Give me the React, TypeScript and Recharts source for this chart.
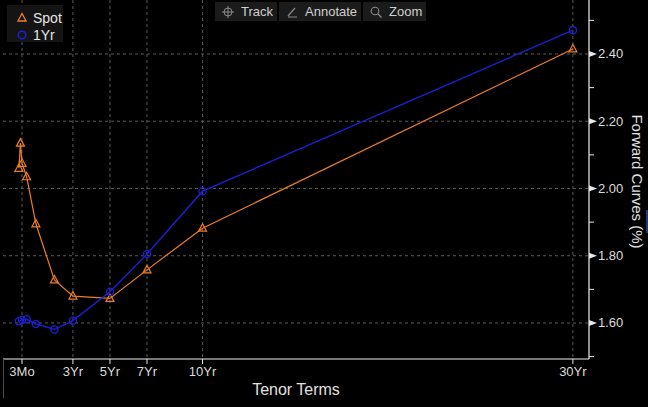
import React from 'react';
import { LineChart, Line, XAxis, YAxis, CartesianGrid } from 'recharts';

const tenorTicks = [0.25, 3, 5, 7, 10, 30];
const tenorLabels = ['3Mo', '3Yr', '5Yr', '7Yr', '10Yr', '30Yr'];

const spotTenors = [0.083, 0.167, 0.25, 0.5, 1, 2, 3, 5, 7, 10, 30];
const spotValues = [2.06, 2.135, 2.075, 2.035, 1.895, 1.728, 1.68, 1.673, 1.758, 1.882, 2.415];

const oneYrTenors = [0.083, 0.25, 0.5, 1, 2, 3, 5, 7, 10, 30];
const oneYrValues = [1.605, 1.609, 1.611, 1.597, 1.581, 1.607, 1.693, 1.805, 1.992, 2.471];

const yMajorTicks = [1.6, 1.8, 2.0, 2.2, 2.4];
const yAllTicks = [1.5, 1.6, 1.7, 1.8, 1.9, 2.0, 2.1, 2.2, 2.3, 2.4, 2.5];

const seriesNames = ['Spot', '1Yr'];
const toolbarItems = ['Track', 'Annotate', 'Zoom'];

const ORANGE = '#ee7d26';
const BLUE = '#1e1ed2';
const FONT = '"Liberation Sans", Arial, sans-serif';

const spotData = spotTenors.map((t, i) => ({ t, v: spotValues[i] }));
const oneYrData = oneYrTenors.map((t, i) => ({ t, v: oneYrValues[i] }));

const isMajor = (v: number) => yMajorTicks.some((m) => Math.abs(m - v) < 1e-6);

const YTick = (props: any) => {
  const { x, y, payload } = props;
  const v = payload.value as number;
  if (isMajor(v)) {
    return (
      <g>
        <polygon points={`${x},${y - 3} ${x},${y + 3} ${x + 8},${y}`} fill="#e8e8e8" />
        <text x={x + 9} y={y + 4.5} fill="#dcdcdc" fontSize={13} fontFamily={FONT}>
          {v.toFixed(2)}
        </text>
      </g>
    );
  }
  return <line x1={x} x2={x + 5} y1={y} y2={y} stroke="#e8e8e8" strokeWidth={1} />;
};

const XTick = (props: any) => {
  const { x, y, payload } = props;
  const idx = tenorTicks.findIndex((t) => Math.abs(t - payload.value) < 1e-6);
  return (
    <g>
      <line x1={x} x2={x} y1={y} y2={y + 5} stroke="#e8e8e8" strokeWidth={1} />
      <text x={x} y={y + 17} fill="#dcdcdc" fontSize={13} fontFamily={FONT} textAnchor="middle">
        {idx >= 0 ? tenorLabels[idx] : ''}
      </text>
    </g>
  );
};

const YLabel = (props: any) => {
  const vb = props.viewBox || {};
  const cx = (vb.x ?? 589) + 48;
  const cy = (vb.y ?? 0) + (vb.height ?? 359) / 2 + 2;
  return (
    <text
      x={cx}
      y={cy}
      transform={`rotate(90, ${cx}, ${cy})`}
      textAnchor="middle"
      dominantBaseline="central"
      fill="#e0e0e0"
      fontSize={15}
      fontFamily={FONT}
    >
      Forward Curves (%)
    </text>
  );
};

const TriangleDot = (props: any) => {
  const { cx, cy, index } = props;
  if (cx == null || cy == null) return <g key={`t${index}`} />;
  return (
    <polygon
      key={`t${index}`}
      points={`${cx},${cy - 4.5} ${cx - 4},${cy + 3} ${cx + 4},${cy + 3}`}
      fill="none"
      stroke={ORANGE}
      strokeWidth={1.2}
    />
  );
};

const CircleDot = (props: any) => {
  const { cx, cy, index } = props;
  if (cx == null || cy == null) return <g key={`c${index}`} />;
  return <circle key={`c${index}`} cx={cx} cy={cy} r={3.6} fill="none" stroke={BLUE} strokeWidth={1.3} />;
};

const LegendBox = () => (
  <div
    style={{
      position: 'absolute',
      left: 7,
      top: 5,
      background: '#141414',
      width: 56,
      height: 37,
      fontFamily: FONT,
      fontSize: 14,
      color: '#e6e6e6',
      boxSizing: 'border-box',
      padding: '4px 0 0 8px',
    }}
  >
    {seriesNames.map((n, i) => (
      <div key={n} style={{ display: 'flex', alignItems: 'center', height: 17 }}>
        <svg width={14} height={12} style={{ marginRight: 4 }}>
          {i === 0 ? (
            <polygon points="7,1.5 3,9 11,9" fill="none" stroke={ORANGE} strokeWidth={1.3} />
          ) : (
            <circle cx={7} cy={6} r={3.8} fill="none" stroke={BLUE} strokeWidth={1.5} />
          )}
        </svg>
        <span>{n}</span>
      </div>
    ))}
  </div>
);

const ToolIcon = ({ i }: { i: number }) => {
  const c = '#8a8a8a';
  if (i === 0)
    return (
      <svg width={14} height={14}>
        <circle cx={7} cy={7} r={4} fill="none" stroke={c} strokeWidth={1} />
        <line x1={7} x2={7} y1={1} y2={13} stroke={c} />
        <line x1={1} x2={13} y1={7} y2={7} stroke={c} />
      </svg>
    );
  if (i === 1)
    return (
      <svg width={14} height={14}>
        <line x1={3} x2={10} y1={11} y2={3} stroke={c} strokeWidth={1.2} />
        <line x1={3} x2={12} y1={12} y2={12} stroke={c} strokeWidth={1} />
      </svg>
    );
  return (
    <svg width={14} height={14}>
      <circle cx={6} cy={6} r={3.8} fill="none" stroke={c} strokeWidth={1.1} />
      <line x1={9} x2={12.5} y1={9} y2={12.5} stroke={c} strokeWidth={1.3} />
    </svg>
  );
};

export default function App() {
  return (
    <div
      style={{
        position: 'fixed',
        left: 0,
        top: 0,
        width: 648,
        height: 407,
        background: '#000',
        overflow: 'hidden',
      }}
    >
      <LineChart width={648} height={407} margin={{ top: 0, right: 0, bottom: 0, left: 3 }}>
        <CartesianGrid
          stroke="#5a5a5a"
          strokeDasharray="3 3"
          horizontalValues={yMajorTicks}
          verticalValues={tenorTicks}
          xAxisId="x"
          yAxisId="y"
        />
        <XAxis
          xAxisId="x"
          dataKey="t"
          type="number"
          domain={[-0.776, 30.87]}
          allowDataOverflow
          ticks={tenorTicks}
          interval={0}
          height={48}
          tickSize={0}
          tickMargin={0}
          tickLine={false}
          axisLine={{ stroke: '#f0f0f0', strokeWidth: 1.2 }}
          tick={<XTick />}
          label={{
            value: 'Tenor Terms',
            position: 'insideBottom',
            offset: 12,
            fill: '#e0e0e0',
            fontSize: 16,
            fontFamily: FONT,
          }}
        />
        <YAxis
          yAxisId="y"
          orientation="right"
          type="number"
          domain={[1.4929, 2.5606]}
          allowDataOverflow
          ticks={yAllTicks}
          interval={0}
          width={59}
          tickSize={0}
          tickMargin={0}
          tickLine={false}
          axisLine={{ stroke: '#f0f0f0', strokeWidth: 1.2 }}
          tick={<YTick />}
          label={<YLabel />}
        />
        <YAxis
          yAxisId="frame"
          orientation="left"
          width={0}
          tick={false}
          tickLine={false}
          axisLine={{ stroke: '#4a4a4a' }}
        />
        <Line
          xAxisId="x"
          yAxisId="y"
          data={spotData}
          dataKey="v"
          name="Spot"
          stroke={ORANGE}
          strokeWidth={1.2}
          dot={TriangleDot}
          activeDot={false}
          isAnimationActive={false}
        />
        <Line
          xAxisId="x"
          yAxisId="y"
          data={oneYrData}
          dataKey="v"
          name="1Yr"
          stroke={BLUE}
          strokeWidth={1.4}
          dot={CircleDot}
          activeDot={false}
          isAnimationActive={false}
        />
      </LineChart>
      <LegendBox />
      <div
        style={{
          position: 'absolute',
          left: 215,
          top: 2,
          display: 'flex',
          gap: 2,
          fontFamily: FONT,
          fontSize: 13,
          color: '#cfcfcf',
        }}
      >
        {toolbarItems.map((t, i) => (
          <div
            key={t}
            style={{
              background: '#1b1b1b',
              height: 19,
              display: 'flex',
              alignItems: 'center',
              padding: '0 4px 0 6px',
              gap: 6,
            }}
          >
            <ToolIcon i={i} />
            <span>{t}</span>
          </div>
        ))}
      </div>
      <div style={{ position: 'absolute', left: 3, top: 359, width: 1, height: 39, background: '#4a4a4a' }} />
      <div style={{ position: 'absolute', left: 646, top: 210, width: 2, height: 23, background: '#1c3c78' }} />
    </div>
  );
}
